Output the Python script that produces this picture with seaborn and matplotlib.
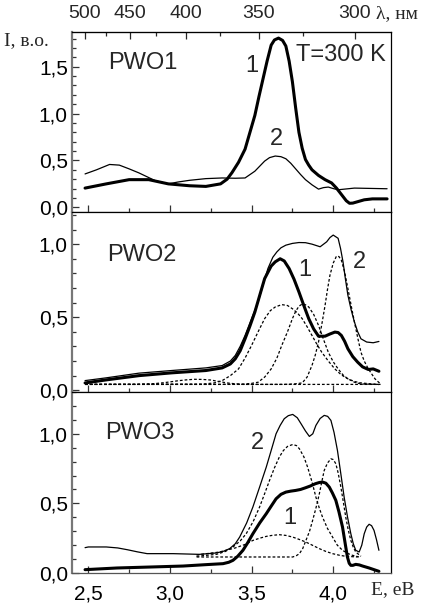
import numpy as np
import pandas as pd
import matplotlib
matplotlib.use("Agg")
import matplotlib.pyplot as plt
from matplotlib.ticker import FixedLocator, FuncFormatter, MultipleLocator
import seaborn as sns

# ---------------- data ----------------
# Panel PWO1
p1_c1_E = [2.48, 2.61, 2.75, 2.87, 2.99, 3.12, 3.22, 3.31, 3.35, 3.38, 3.42, 3.46, 3.49, 3.52, 3.545, 3.57, 3.595, 3.62, 3.64, 3.665, 3.69, 3.71, 3.73, 3.75, 3.77, 3.79, 3.81, 3.83, 3.85, 3.87, 3.91, 3.95, 3.99, 4.02, 4.04, 4.06, 4.08, 4.10, 4.12, 4.15, 4.19, 4.24, 4.33]
p1_c1_I = [0.205, 0.25, 0.295, 0.295, 0.25, 0.23, 0.223, 0.25, 0.30, 0.37, 0.48, 0.62, 0.80, 0.98, 1.18, 1.37, 1.56, 1.73, 1.785, 1.805, 1.78, 1.72, 1.56, 1.34, 1.06, 0.80, 0.63, 0.51, 0.45, 0.40, 0.34, 0.295, 0.26, 0.205, 0.16, 0.115, 0.07, 0.043, 0.045, 0.06, 0.08, 0.09, 0.09]
p1_c2_E = [2.48, 2.55, 2.63, 2.69, 2.75, 2.81, 2.91, 2.99, 3.05, 3.12, 3.22, 3.32, 3.40, 3.46, 3.52, 3.58, 3.61, 3.645, 3.68, 3.71, 3.74, 3.77, 3.80, 3.83, 3.87, 3.91, 3.94, 3.97, 4.00, 4.03, 4.13, 4.33]
p1_c2_I = [0.356, 0.40, 0.457, 0.45, 0.41, 0.367, 0.284, 0.25, 0.27, 0.288, 0.306, 0.313, 0.31, 0.313, 0.385, 0.493, 0.53, 0.547, 0.54, 0.518, 0.47, 0.41, 0.35, 0.295, 0.24, 0.194, 0.21, 0.216, 0.2, 0.187, 0.205, 0.198]

# Panel PWO2
p2_c1_E = [2.48, 2.61, 2.81, 3.01, 3.22, 3.32, 3.37, 3.40, 3.43, 3.46, 3.49, 3.52, 3.55, 3.58, 3.62, 3.645, 3.675, 3.70, 3.73, 3.76, 3.79, 3.82, 3.85, 3.88, 3.91, 3.95, 3.98, 4.01, 4.03, 4.05, 4.07, 4.09, 4.12, 4.15, 4.18, 4.215, 4.245, 4.28]
p2_c1_I = [0.05, 0.071, 0.10, 0.119, 0.135, 0.153, 0.18, 0.215, 0.27, 0.352, 0.44, 0.535, 0.65, 0.764, 0.85, 0.879, 0.90, 0.885, 0.833, 0.76, 0.673, 0.58, 0.49, 0.42, 0.37, 0.37, 0.385, 0.398, 0.395, 0.375, 0.335, 0.284, 0.23, 0.192, 0.16, 0.142, 0.146, 0.13]
p2_c2_E = [2.48, 2.61, 2.81, 3.01, 3.22, 3.32, 3.37, 3.40, 3.43, 3.46, 3.50, 3.54, 3.57, 3.60, 3.63, 3.655, 3.68, 3.71, 3.75, 3.79, 3.83, 3.87, 3.92, 3.96, 3.98, 4.00, 4.03, 4.045, 4.06, 4.075, 4.09, 4.11, 4.13, 4.15, 4.17, 4.205, 4.245, 4.28]
p2_c2_I = [0.066, 0.085, 0.117, 0.135, 0.153, 0.169, 0.20, 0.238, 0.30, 0.375, 0.49, 0.604, 0.72, 0.833, 0.91, 0.947, 0.975, 0.993, 1.005, 1.011, 1.01, 1.0, 0.982, 1.016, 1.045, 1.062, 1.04, 0.97, 0.879, 0.76, 0.65, 0.55, 0.467, 0.40, 0.352, 0.33, 0.325, 0.334]
p2_g0_E = [2.48, 2.80, 2.90, 2.95, 3.00, 3.05, 3.10, 3.15, 3.20, 3.25, 3.30, 3.35, 3.40, 3.45, 4.29]
p2_g0_I = [0.04, 0.04, 0.045, 0.05, 0.057, 0.065, 0.071, 0.075, 0.074, 0.07, 0.06, 0.05, 0.044, 0.04, 0.04]
p2_g1_E = [2.48, 3.20, 3.27, 3.32, 3.37, 3.42, 3.46, 3.50, 3.54, 3.58, 3.615, 3.645, 3.685, 3.72, 3.75, 3.78, 3.81, 3.84, 3.87, 3.90, 3.93, 3.97, 4.01, 4.05, 4.09, 4.13, 4.17, 4.28]
p2_g1_I = [0.04, 0.042, 0.05, 0.066, 0.10, 0.146, 0.22, 0.307, 0.40, 0.49, 0.545, 0.57, 0.586, 0.58, 0.558, 0.53, 0.49, 0.435, 0.375, 0.315, 0.26, 0.2, 0.146, 0.105, 0.078, 0.06, 0.05, 0.039]
p2_g2_E = [2.48, 3.30, 3.45, 3.50, 3.54, 3.58, 3.62, 3.655, 3.685, 3.72, 3.75, 3.77, 3.79, 3.81, 3.83, 3.85, 3.88, 3.91, 3.94, 3.97, 4.00, 4.03, 4.06, 4.09, 4.13, 4.17, 4.28]
p2_g2_I = [0.04, 0.04, 0.042, 0.047, 0.055, 0.09, 0.146, 0.22, 0.307, 0.40, 0.49, 0.54, 0.575, 0.59, 0.585, 0.57, 0.52, 0.444, 0.35, 0.26, 0.195, 0.146, 0.105, 0.078, 0.055, 0.043, 0.04]
p2_g3_E = [2.48, 3.70, 3.76, 3.81, 3.84, 3.87, 3.89, 3.91, 3.93, 3.95, 3.965, 3.98, 4.00, 4.02, 4.035, 4.05, 4.07, 4.09, 4.11, 4.13, 4.15, 4.17, 4.19, 4.215, 4.256, 4.29]
p2_g3_I = [0.04, 0.04, 0.043, 0.05, 0.09, 0.17, 0.24, 0.33, 0.45, 0.58, 0.69, 0.787, 0.87, 0.918, 0.915, 0.89, 0.81, 0.696, 0.58, 0.467, 0.36, 0.26, 0.2, 0.146, 0.078, 0.043]

# Panel PWO3
p3_c1_E = [2.48, 2.675, 2.88, 3.08, 3.22, 3.325, 3.36, 3.386, 3.415, 3.447, 3.475, 3.508, 3.55, 3.59, 3.62, 3.65, 3.68, 3.71, 3.74, 3.77, 3.80, 3.83, 3.86, 3.89, 3.915, 3.935, 3.955, 3.976, 3.995, 4.016, 4.035, 4.057, 4.075, 4.087, 4.098, 4.108, 4.12, 4.138, 4.16, 4.18, 4.22, 4.28]
p3_c1_I = [0.024, 0.036, 0.043, 0.05, 0.06, 0.067, 0.077, 0.091, 0.12, 0.163, 0.215, 0.282, 0.36, 0.426, 0.48, 0.533, 0.565, 0.581, 0.588, 0.593, 0.60, 0.612, 0.625, 0.641, 0.65, 0.653, 0.645, 0.617, 0.575, 0.522, 0.44, 0.33, 0.2, 0.115, 0.07, 0.055, 0.055, 0.062, 0.058, 0.05, 0.036, 0.012]
p3_c2_E = [2.48, 2.50, 2.61, 2.68, 2.74, 2.80, 2.86, 3.02, 3.18, 3.285, 3.33, 3.366, 3.40, 3.427, 3.47, 3.508, 3.55, 3.59, 3.62, 3.65, 3.675, 3.70, 3.725, 3.752, 3.78, 3.803, 3.83, 3.854, 3.875, 3.894, 3.92, 3.945, 3.966, 3.986, 4.005, 4.026, 4.047, 4.067, 4.088, 4.108, 4.123, 4.138, 4.159, 4.175, 4.19, 4.205, 4.22, 4.235, 4.25, 4.265, 4.28]
p3_c2_I = [0.182, 0.187, 0.187, 0.18, 0.167, 0.152, 0.139, 0.139, 0.134, 0.144, 0.157, 0.175, 0.21, 0.258, 0.36, 0.474, 0.62, 0.761, 0.88, 1.0, 1.06, 1.108, 1.13, 1.139, 1.115, 1.072, 1.02, 0.981, 1.0, 1.06, 1.11, 1.132, 1.125, 1.096, 1.01, 0.88, 0.71, 0.545, 0.40, 0.282, 0.21, 0.163, 0.151, 0.2, 0.282, 0.33, 0.35, 0.34, 0.306, 0.24, 0.163]
p3_d1_E = [3.163, 3.285, 3.34, 3.386, 3.43, 3.467, 3.51, 3.549, 3.58, 3.61, 3.64, 3.67, 3.695, 3.72, 3.752, 3.775, 3.793, 3.82, 3.843, 3.87, 3.894, 3.915, 3.935, 3.965, 3.996, 4.025, 4.057, 4.09, 4.118, 4.159]
p3_d1_I = [0.12, 0.134, 0.155, 0.187, 0.23, 0.282, 0.37, 0.474, 0.57, 0.665, 0.755, 0.833, 0.88, 0.909, 0.923, 0.915, 0.892, 0.835, 0.761, 0.655, 0.545, 0.465, 0.40, 0.32, 0.258, 0.2, 0.163, 0.14, 0.127, 0.115]
p3_d2_E = [3.163, 3.30, 3.40, 3.46, 3.508, 3.55, 3.59, 3.63, 3.67, 3.71, 3.752, 3.79, 3.833, 3.875, 3.915, 3.955, 3.996, 4.04, 4.077, 4.15]
p3_d2_I = [0.13, 0.15, 0.18, 0.205, 0.234, 0.25, 0.263, 0.271, 0.275, 0.27, 0.258, 0.242, 0.222, 0.198, 0.175, 0.155, 0.139, 0.127, 0.12, 0.115]
p3_d3_E = [3.163, 3.752, 3.775, 3.793, 3.813, 3.833, 3.855, 3.874, 3.895, 3.915, 3.93, 3.945, 3.965, 3.986, 4.0, 4.016, 4.03, 4.047, 4.062, 4.077, 4.092, 4.108, 4.123, 4.138, 4.17]
p3_d3_I = [0.115, 0.115, 0.125, 0.139, 0.175, 0.234, 0.3, 0.378, 0.47, 0.569, 0.655, 0.737, 0.79, 0.82, 0.815, 0.785, 0.72, 0.617, 0.51, 0.40, 0.31, 0.234, 0.185, 0.151, 0.12]

panel_names = ["PWO1", "PWO2", "PWO3"]
y_limits = [(-0.05, 1.87), (-0.012, 1.22), (0.0, 1.30)]
x_ticks = [2.5, 3.0, 3.5, 4.0]
wl_ticks = [500, 450, 400, 350, 300]
wl_minor = [475, 425, 375, 325]

# ---------------- figure ----------------
sns.set_style("ticks")
plt.rcParams["font.family"] = ["Liberation Sans", "DejaVu Sans"]
serif = ["Liberation Serif", "DejaVu Serif"]

W, H = 433, 603
fig = plt.figure(figsize=(W / 100, H / 100), dpi=100)
L, R = 72 / W, 391 / W
edges = [32, 212, 392, 573]
axes = []
for i in range(3):
    top = 1 - edges[i] / H
    bot = 1 - edges[i + 1] / H
    axes.append(fig.add_axes([L, bot, R - L, top - bot]))

thick = dict(color="black", linewidth=2.2)
thin = dict(color="black", linewidth=0.9)
dash = dict(color="black", linewidth=0.9, linestyle=(0, (2.2, 1.6)))

def draw(ax, E, I, style):
    df = pd.DataFrame({"E": E, "I": I})
    sns.lineplot(data=df, x="E", y="I", ax=ax, estimator=None, sort=False, **style)

draw(axes[0], p1_c2_E, p1_c2_I, thin)
draw(axes[0], p1_c1_E, p1_c1_I, thick)

for E, I in [(p2_g0_E, p2_g0_I), (p2_g1_E, p2_g1_I), (p2_g2_E, p2_g2_I), (p2_g3_E, p2_g3_I)]:
    draw(axes[1], E, I, dash)
draw(axes[1], p2_c2_E, p2_c2_I, thin)
draw(axes[1], p2_c1_E, p2_c1_I, thick)

for E, I in [(p3_d1_E, p3_d1_I), (p3_d2_E, p3_d2_I), (p3_d3_E, p3_d3_I)]:
    draw(axes[2], E, I, dash)
draw(axes[2], p3_c2_E, p3_c2_I, thin)
draw(axes[2], p3_c1_E, p3_c1_I, thick)

comma = FuncFormatter(lambda v, p: f"{v:.1f}".replace(".", ","))
for i, ax in enumerate(axes):
    ax.set_xlim(2.40, 4.354)
    ax.set_ylim(*y_limits[i])
    ax.set_xlabel("")
    ax.set_ylabel("")
    ax.xaxis.set_major_locator(FixedLocator(x_ticks))
    ax.xaxis.set_minor_locator(MultipleLocator(0.25))
    ax.yaxis.set_major_locator(MultipleLocator(0.5))
    ax.yaxis.set_minor_locator(MultipleLocator(0.1))
    ax.yaxis.set_major_formatter(comma)
    ax.xaxis.set_major_formatter(comma)
    ax.tick_params(axis="both", which="both", direction="in", top=False, right=False,
                   colors="#333333", labelcolor="black")
    ax.tick_params(axis="x", which="major", length=5, width=0.9, labelsize=15, pad=8)
    ax.tick_params(axis="x", which="minor", length=3, width=0.9)
    ax.tick_params(axis="y", which="major", length=5, width=0.9, labelsize=15, pad=3)
    ax.tick_params(axis="y", which="minor", length=3, width=0.9)
    if i < 2:
        ax.tick_params(axis="x", labelbottom=False)
    for s in ["top", "right", "bottom"]:
        ax.spines[s].set_color("black")
        ax.spines[s].set_linewidth(0.9)
    ax.spines["left"].set_color("#777777")
    ax.spines["left"].set_linewidth(1.6)
    ax.spines["bottom"].set_color("#555555")
    ax.set_facecolor("white")

# top wavelength axis
sec = axes[0].secondary_xaxis("top", functions=(lambda e: 1239.84 / np.asarray(e, float),
                                                lambda l: 1239.84 / np.asarray(l, float)))
sec.xaxis.set_major_locator(FixedLocator(wl_ticks))
sec.xaxis.set_minor_locator(FixedLocator(wl_minor))
sec.xaxis.set_major_formatter(FuncFormatter(lambda v, p: f"{v:.0f}"))
sec.tick_params(axis="x", which="major", direction="in", length=5, width=0.9, labelsize=14, pad=7)
sec.tick_params(axis="x", which="minor", direction="in", length=3, width=0.9)

# panel texts
ts = 17
axes[0].text(108 / W, 1 - 63 / H, "PWO1", transform=fig.transFigure, fontsize=ts, va="center", ha="left")
axes[0].text(341 / W, 1 - 55 / H, "T=300 K", transform=fig.transFigure, fontsize=ts, va="center", ha="center")
axes[0].text(252 / W, 1 - 66 / H, "1", transform=fig.transFigure, fontsize=ts, va="center", ha="center")
axes[0].text(276 / W, 1 - 139 / H, "2", transform=fig.transFigure, fontsize=ts, va="center", ha="center")
axes[1].text(107 / W, 1 - 255 / H, "PWO2", transform=fig.transFigure, fontsize=ts, va="center", ha="left")
axes[1].text(305 / W, 1 - 270 / H, "1", transform=fig.transFigure, fontsize=ts, va="center", ha="center")
axes[1].text(359 / W, 1 - 262 / H, "2", transform=fig.transFigure, fontsize=ts, va="center", ha="center")
axes[2].text(105 / W, 1 - 433 / H, "PWO3", transform=fig.transFigure, fontsize=ts, va="center", ha="left")
axes[2].text(257 / W, 1 - 443 / H, "2", transform=fig.transFigure, fontsize=ts, va="center", ha="center")
axes[2].text(290 / W, 1 - 518 / H, "1", transform=fig.transFigure, fontsize=ts, va="center", ha="center")

# axis labels
fig.text(4 / W, 1 - 41 / H, "I, в.о.", family=serif, fontsize=14, va="center", ha="left")
fig.text(376 / W, 1 - 14 / H, "λ, нм", family=serif, fontsize=14, va="center", ha="left")
fig.text(371 / W, 1 - 590 / H, "E, eB", family=serif, fontsize=14, va="center", ha="left")

fig.savefig("out.png", dpi=100, facecolor="white")
